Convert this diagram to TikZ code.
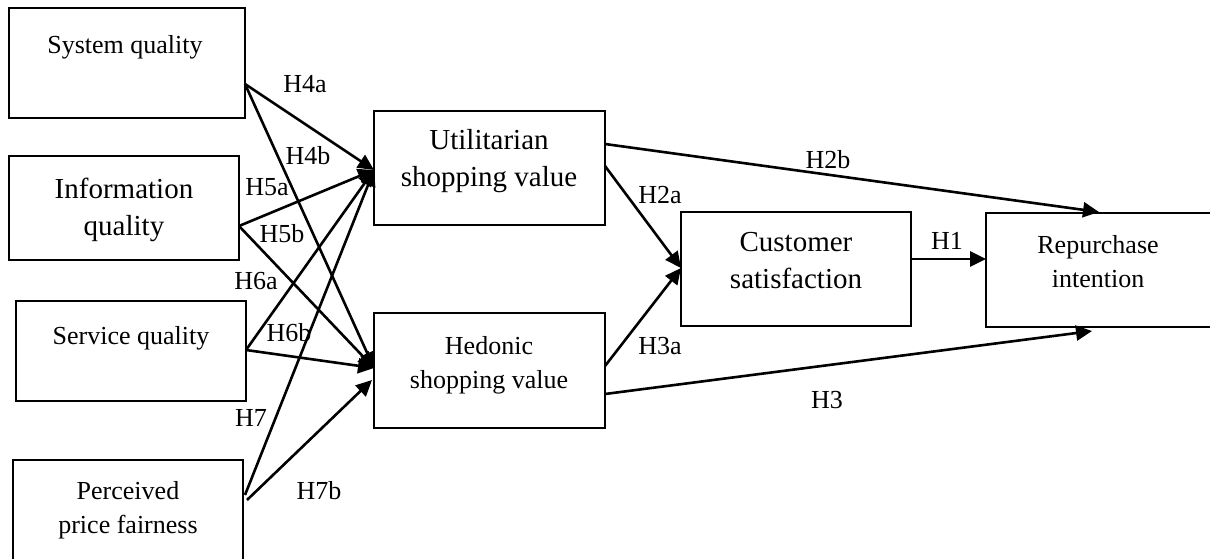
\documentclass[tikz,border=0pt]{standalone}
\usepackage{fontspec}
\setmainfont{Liberation Serif}
\usetikzlibrary{arrows.meta}

\tikzset{
  box/.style={draw, line width=1.9pt, inner sep=0pt},
  txt/.style={inner sep=0pt, align=center, font=\fontsize{26}{34}\selectfont},
  bigtxt/.style={inner sep=0pt, align=center, font=\fontsize{29}{37}\selectfont},
  hyp/.style={inner sep=0pt, font=\fontsize{26}{30}\selectfont},
  link/.style={line width=2.6pt, -{Triangle[length=16pt,width=15pt]}},
}

\begin{document}
\begin{tikzpicture}[x=1pt, y=-1pt]
\useasboundingbox (0,0) rectangle (1210,559);
\clip (0,0) rectangle (1210,559);

% construct boxes
\node[box, minimum width=236pt, minimum height=110pt] (sysq) at (127,63) {};
\node[box, minimum width=230pt, minimum height=104pt] (infq) at (124,208) {};
\node[box, minimum width=230pt, minimum height=100pt] (servq) at (131,351) {};
\node[box, minimum width=230pt, minimum height=130pt] (ppf) at (128,525) {};
\node[box, minimum width=231pt, minimum height=114pt] (util) at (489.5,168) {};
\node[box, minimum width=231pt, minimum height=115pt] (hed) at (489.5,370.5) {};
\node[box, minimum width=230pt, minimum height=114pt] (cust) at (796,269) {};
\node[box, minimum width=240pt, minimum height=114pt] (rep) at (1106,270) {};

% box texts
\node[txt] (sysq-t) at (125,47) {System quality};
\node[bigtxt] (infq-t) at (124,210) {Information\\quality};
\node[txt] (servq-t) at (131,338) {Service quality};
\node[txt] (ppf-t) at (128,510) {Perceived\\price fairness};
\node[bigtxt] (util-t) at (489,161.5) {Utilitarian\\shopping value};
\node[txt] (hed-t) at (489,365.5) {Hedonic\\shopping value};
\node[bigtxt] (cust-t) at (796,261) {Customer\\satisfaction};
\node[txt] (rep-t) at (1098,262) {Repurchase\\intention};

% connector end points on the box edges
\coordinate (sysq-o) at (245,84);
\coordinate (infq-o) at (239,226);
\coordinate (servq-o) at (246,350);
\coordinate (ppf-o1) at (245,495);
\coordinate (ppf-o2) at (247,500);
\coordinate (util-i) at (374,170);
\coordinate (hed-i) at (374,368);
\coordinate (hed-i2) at (372,380);
\coordinate (util-o1) at (605,144);
\coordinate (util-o2) at (605,166);
\coordinate (hed-o1) at (605,366);
\coordinate (hed-o2) at (605,394);
\coordinate (cust-i) at (681,268);
\coordinate (cust-o) at (911,259);
\coordinate (rep-i) at (986,259);
\coordinate (rep-top) at (1099,212);
\coordinate (rep-bot) at (1092,331);

% quality dimensions to shopping values
\draw[link] (sysq-o) -- (util-i);
\draw[link] (sysq-o) -- (hed-i);
\draw[link] (infq-o) -- (util-i);
\draw[link] (infq-o) -- (hed-i);
\draw[link] (servq-o) -- (util-i);
\draw[link] (servq-o) -- (hed-i);
\draw[link] (ppf-o1) -- (util-i);
\draw[link] (ppf-o2) -- (hed-i2);

% shopping values to satisfaction and repurchase
\draw[link] (util-o1) -- (rep-top);
\draw[link] (util-o2) -- (cust-i);
\draw[link] (hed-o1) -- (cust-i);
\draw[link] (hed-o2) -- (rep-bot);
\draw[link] (cust-o) -- (rep-i);

% hypothesis labels
\node[hyp] (h4a) at (305,84) {H4a};
\node[hyp] (h4b) at (308,156) {H4b};
\node[hyp] (h5a) at (267,187) {H5a};
\node[hyp] (h5b) at (282,234) {H5b};
\node[hyp] (h6a) at (256,281) {H6a};
\node[hyp] (h6b) at (289,333) {H6b};
\node[hyp] (h7) at (251,418) {H7};
\node[hyp] (h7b) at (319,491) {H7b};
\node[hyp] (h2b) at (828,160) {H2b};
\node[hyp] (h2a) at (660,195) {H2a};
\node[hyp] (h3a) at (660,346) {H3a};
\node[hyp] (h3) at (827,400) {H3};
\node[hyp] (h1) at (947,241) {H1};
\end{tikzpicture}
\end{document}
